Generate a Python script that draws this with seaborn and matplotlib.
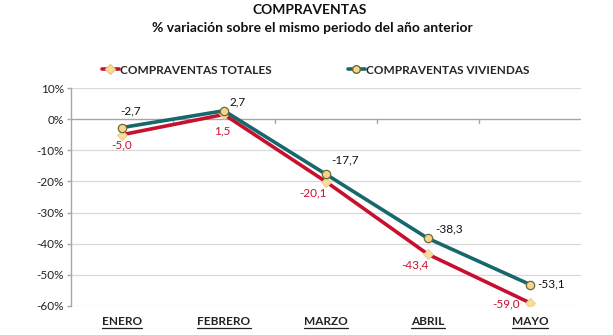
import matplotlib
matplotlib.use("Agg")
import matplotlib.pyplot as plt
from matplotlib.lines import Line2D
import seaborn as sns
import pandas as pd

meses = ["ENERO", "FEBRERO", "MARZO", "ABRIL", "MAYO"]
totales = [-5.0, 1.5, -20.1, -43.4, -59.0]
viviendas = [-2.7, 2.7, -17.7, -38.3, -53.1]
yticks = [10, 0, -10, -20, -30, -40, -50, -60]

sns.set_theme(style="white")
plt.rcParams["font.family"] = ["Lato", "DejaVu Sans"]

RED = "#c8102e"
TEAL = "#16686c"

df = pd.DataFrame({
    "mes": meses * 2,
    "x": list(range(len(meses))) * 2,
    "valor": totales + viviendas,
    "serie": ["COMPRAVENTAS TOTALES"] * len(meses) + ["COMPRAVENTAS VIVIENDAS"] * len(meses),
})

fig = plt.figure(figsize=(6.13, 3.35), dpi=100)
ax = fig.add_axes([71 / 613, 1 - 306 / 335, 510 / 613, 218 / 335])

# horizontal gridlines
for t in yticks:
    if t != 0:
        ax.axhline(t, color="#d9d9d9", lw=0.9, zorder=0)
ax.axhline(0, color="#a6a6a6", lw=1.0, zorder=1)
for b in [0.5, 1.5, 2.5, 3.5]:
    ax.plot([b, b], [0, -1.3], color="#a6a6a6", lw=1.0, zorder=1)

sns.lineplot(data=df[df.serie == "COMPRAVENTAS TOTALES"], x="x", y="valor",
             color=RED, lw=2.6, marker="D", markersize=5.5,
             markerfacecolor="#f8dc9c", markeredgecolor="#e8c98a",
             markeredgewidth=0.6, ax=ax, zorder=3, legend=False)
sns.lineplot(data=df[df.serie == "COMPRAVENTAS VIVIENDAS"], x="x", y="valor",
             color=TEAL, lw=2.6, marker="o", markersize=6,
             markerfacecolor="#f5d58a", markeredgecolor="#6b6a3a",
             markeredgewidth=0.9, ax=ax, zorder=4, legend=False)

ax.set_xlim(-0.5, 4.5)
ax.set_ylim(-60, 10)
ax.set_yticks(yticks)
ax.set_yticklabels([f"{t}%" for t in yticks], fontsize=8.5, color="#222222")
ax.set_xticks(range(len(meses)))
ax.set_xticklabels([])
ax.set_xlabel("")
ax.set_ylabel("")
for s in ["top", "right", "bottom"]:
    ax.spines[s].set_visible(False)
ax.spines["left"].set_color("#a6a6a6")
ax.spines["left"].set_linewidth(1.0)
ax.tick_params(axis="y", length=3, width=1, color="#a6a6a6", pad=2, left=True)
ax.tick_params(axis="x", length=0)

# value labels
off_viv = [(6.5, 12), (10, 6.5), (13.5, 10.5), (15, 6.5), (15, 0.5)]
off_tot = [(0, -7), (-1.4, -12), (-9.4, -8), (-9.4, -8), (-17, -1)]
for i, (v, t) in enumerate(zip(viviendas, totales)):
    ax.annotate(f"{v:.1f}".replace(".", ","), (i, v), xytext=off_viv[i],
                textcoords="offset points", ha="center", va="center",
                fontsize=8.5, color="#111111")
    ax.annotate(f"{t:.1f}".replace(".", ","), (i, t), xytext=off_tot[i],
                textcoords="offset points", ha="center", va="center",
                fontsize=8.5, color=RED, annotation_clip=False)

# bold underlined month names
month_texts = []
for i, m in enumerate(meses):
    month_texts.append(ax.annotate(m, (i, -60), xytext=(0, -11.5),
                                   textcoords="offset points", ha="center",
                                   va="center", fontsize=8.5, fontweight="bold",
                                   color="#222222", annotation_clip=False))

fig.text(0.505, 1 - 10 / 335, "COMPRAVENTAS", ha="center", va="center",
         fontsize=10, fontweight="bold", color="#111111")
fig.text(0.51, 1 - 28 / 335, "% variación sobre el mismo periodo del año anterior",
         ha="center", va="center", fontsize=10, fontweight="bold", color="#111111")

handles = [
    Line2D([0], [0], color=RED, lw=2.6, marker="D", markersize=5,
           markerfacecolor="#f8dc9c", markeredgecolor="#e8c98a"),
    Line2D([0], [0], color=TEAL, lw=2.6, marker="o", markersize=5.5,
           markerfacecolor="#f5d58a", markeredgecolor="#6b6a3a"),
]
fig.legend(handles, ["COMPRAVENTAS TOTALES", "COMPRAVENTAS VIVIENDAS"],
           loc="center", bbox_to_anchor=(0.515, 1 - 70 / 335), ncol=2,
           frameon=False, handlelength=1.4, handletextpad=0.1,
           columnspacing=6.5, prop={"weight": "bold", "size": 8.5})

fig.canvas.draw()
r = fig.canvas.get_renderer()
for t in month_texts:
    bb = t.get_window_extent(r)
    y = bb.y0 - 0.5
    fig.add_artist(Line2D([bb.x0 / fig.bbox.width, bb.x1 / fig.bbox.width],
                          [y / fig.bbox.height, y / fig.bbox.height],
                          transform=fig.transFigure, color="#222222", lw=0.9))

fig.savefig("out.png", dpi=100)
